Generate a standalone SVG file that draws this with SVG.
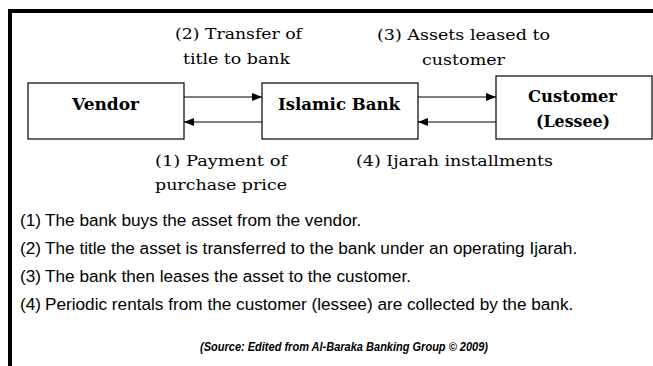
<svg xmlns="http://www.w3.org/2000/svg" width="653" height="366" viewBox="0 0 653 366">
  <defs>
    <marker id="arrowhead" viewBox="0 0 10 8" refX="10" refY="4" markerWidth="10" markerHeight="8" markerUnits="userSpaceOnUse" orient="auto">
      <path d="M0,0 L10,4 L0,8 Z" fill="#000"/>
    </marker>
    <style>
      .box { fill: #fff; stroke: #000; stroke-width: 1.2; }
      .node-label { font-family: "DejaVu Serif", "Liberation Serif", serif; font-weight: bold; font-size: 16px; fill: #000; text-anchor: middle; }
      .flow-label { font-family: "DejaVu Serif", "Liberation Serif", serif; font-size: 15px; fill: #000; text-anchor: middle; }
      .link { stroke: #000; stroke-width: 1.2; fill: none; marker-end: url(#arrowhead); }
      .note { font-family: "Liberation Sans", Arial, sans-serif; font-size: 17.2px; fill: #000; }
      .source { font-family: "Liberation Sans", Arial, sans-serif; font-size: 12.5px; font-weight: bold; font-style: italic; fill: #000; text-anchor: middle; }
    </style>
  </defs>

  <rect width="653" height="366" fill="#fff"/>

  <!-- heavy frame along the top and left edges -->
  <g id="frame" stroke="#000" stroke-width="4" fill="none">
    <path d="M10,366 V11 H653"/>
  </g>

  <g id="vendor">
    <rect class="box" x="28" y="83" width="156" height="56"/>
    <text class="node-label" x="105.5" y="110" textLength="67" lengthAdjust="spacingAndGlyphs">Vendor</text>
  </g>

  <g id="islamic-bank">
    <rect class="box" x="262" y="83" width="156" height="56"/>
    <text class="node-label" x="339" y="110" textLength="122" lengthAdjust="spacingAndGlyphs">Islamic Bank</text>
  </g>

  <g id="customer">
    <rect class="box" x="496" y="76" width="156" height="63"/>
    <text class="node-label" x="572.5" y="102" textLength="89" lengthAdjust="spacingAndGlyphs">Customer</text>
    <text class="node-label" x="573" y="127" textLength="74" lengthAdjust="spacingAndGlyphs">(Lessee)</text>
  </g>

  <g id="connectors">
    <line class="link" x1="184" y1="97" x2="262" y2="97"/>
    <line class="link" x1="262" y1="122" x2="184" y2="122"/>
    <line class="link" x1="418" y1="97" x2="496" y2="97"/>
    <line class="link" x1="496" y1="122" x2="418" y2="122"/>
  </g>

  <g id="flow-labels">
    <text class="flow-label" x="238.5" y="39" textLength="127" lengthAdjust="spacingAndGlyphs">(2) Transfer of</text>
    <text class="flow-label" x="236.5" y="64" textLength="107" lengthAdjust="spacingAndGlyphs">title to bank</text>
    <text class="flow-label" x="463.5" y="40" textLength="173" lengthAdjust="spacingAndGlyphs">(3) Assets leased to</text>
    <text class="flow-label" x="463.5" y="65" textLength="83" lengthAdjust="spacingAndGlyphs">customer</text>
    <text class="flow-label" x="221" y="166" textLength="132" lengthAdjust="spacingAndGlyphs">(1) Payment of</text>
    <text class="flow-label" x="221" y="190" textLength="132" lengthAdjust="spacingAndGlyphs">purchase price</text>
    <text class="flow-label" x="454.5" y="166" textLength="197" lengthAdjust="spacingAndGlyphs">(4) Ijarah installments</text>
  </g>

  <g id="notes">
    <text class="note" x="20" y="226">(1)</text>
    <text class="note" x="45" y="226">The bank buys the asset from the vendor.</text>
    <text class="note" x="20" y="254">(2)</text>
    <text class="note" x="45" y="254">The title the asset is transferred to the bank under an operating Ijarah.</text>
    <text class="note" x="20" y="282">(3)</text>
    <text class="note" x="45" y="282">The bank then leases the asset to the customer.</text>
    <text class="note" x="20" y="310">(4)</text>
    <text class="note" x="45" y="310">Periodic rentals from the customer (lessee) are collected by the bank.</text>
  </g>

  <text class="source" x="344" y="351" textLength="288" lengthAdjust="spacingAndGlyphs">(Source: Edited from Al-Baraka Banking Group © 2009)</text>
</svg>
